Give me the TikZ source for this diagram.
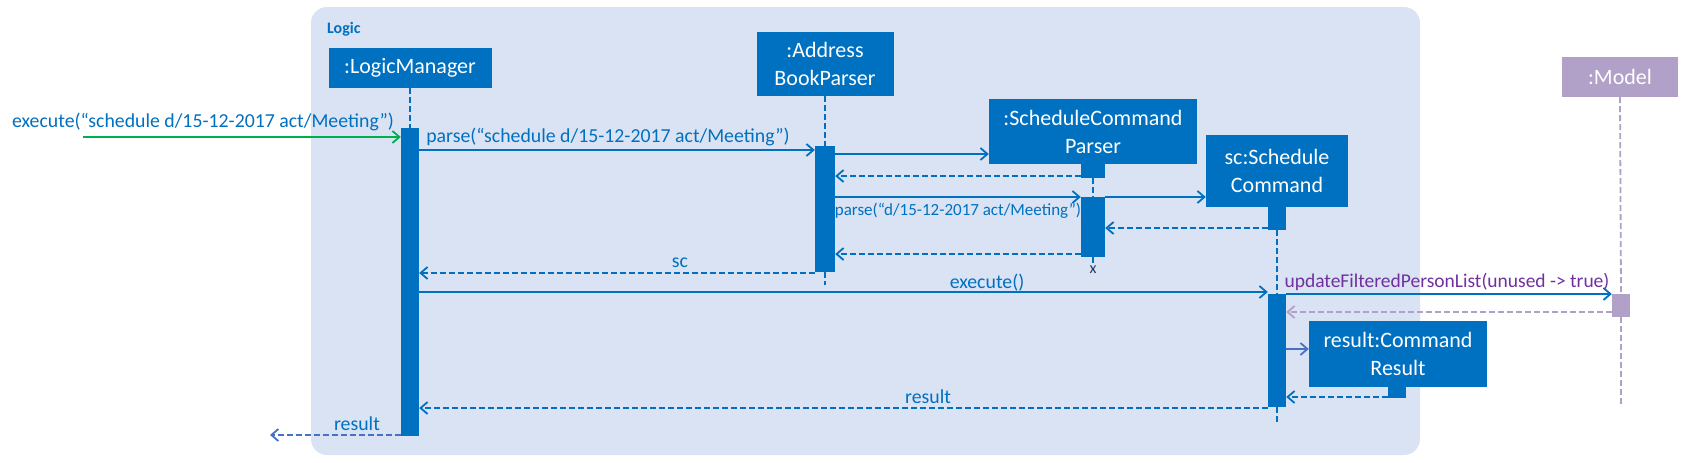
\documentclass[tikz,border=0pt]{standalone}
\usepackage{fontspec}
\setmainfont{Carlito}
\usepackage{tikz}
\usetikzlibrary{arrows.meta}
\definecolor{umlblue}{RGB}{0,112,192}
\definecolor{framebg}{RGB}{218,227,243}
\definecolor{modelpurple}{RGB}{177,160,199}
\definecolor{callgreen}{RGB}{0,176,80}
\definecolor{labelpurple}{RGB}{112,48,160}
\definecolor{crossnavy}{RGB}{31,56,100}
\definecolor{softblue}{RGB}{68,114,196}

\begin{document}
\begin{tikzpicture}[x=1pt,y=-1pt,
  obj/.style={rectangle,fill=umlblue,text=white,align=center,inner sep=0pt,font=\fontsize{22}{28}\selectfont},
  bar/.style={rectangle,fill=umlblue,inner sep=0pt,minimum width=18pt},
  life/.style={umlblue,line width=1.8pt,dash pattern=on 6pt off 3pt},
  call/.style={umlblue,line width=1.8pt,-{Straight Barb[length=7pt,width=12pt]}},
  ret/.style={call,dash pattern=on 6pt off 3pt},
  msg/.style={text=umlblue,inner sep=0pt,font=\fontsize{19.8}{22}\selectfont}]
\useasboundingbox (0,0) rectangle (1690,463);
\fill[framebg,rounded corners=16pt] (311,7) rectangle (1420,455);
\node[text=umlblue,inner sep=0pt,anchor=west,font=\bfseries\fontsize{16}{18}\selectfont] (logic) at (327,29) {Logic};

\node[obj,minimum width=163pt,minimum height=40pt] (lm) at (410,68) {:LogicManager};
\node[obj,minimum width=137pt,minimum height=64pt] (abp) at (825,64) {:Address\\BookParser};
\node[obj,minimum width=208pt,minimum height=65pt] (scp) at (1093,131.5) {:ScheduleCommand\\Parser};
\node[obj,minimum width=142pt,minimum height=72pt] (sc) at (1277,171) {sc:Schedule\\Command};
\node[obj,minimum width=178pt,minimum height=66pt] (cr) at (1398,354) {result:Command\\Result};
\node[obj,fill=modelpurple,minimum width=116pt,minimum height=40pt] (model) at (1620,77) {:Model};

\node[bar,minimum height=308pt] (lmbar) at (410,282) {};
\node[bar,minimum width=20pt,minimum height=126pt] (abpbar) at (825,209) {};
\node[bar,minimum width=24pt,minimum height=14pt] (scpbar1) at (1093,171) {};
\node[bar,minimum width=24pt,minimum height=60pt] (scpbar2) at (1093,227) {};
\node[bar,minimum height=23pt] (scbar1) at (1277,218.5) {};
\node[bar,minimum height=113pt] (scbar2) at (1277,350.5) {};
\node[bar,minimum height=11pt] (crbar) at (1397,392.5) {};
\node[bar,fill=modelpurple,minimum height=23pt] (modelbar) at (1621,305.5) {};
\node[text=crossnavy,inner sep=0pt,font=\fontsize{16}{16}\selectfont] (cross) at (1093,270) {x};

\coordinate (abpend) at (825,285);
\coordinate (scend) at (1277,422);
\coordinate (modelend) at (1621,405);
\draw[life] (lm.south) -- (lmbar.north);
\draw[life] (abp.south) -- (abpbar.north);
\draw[life] (abpbar.south) -- (abpend);
\draw[life] (scpbar1.south) -- (scpbar2.north);
\draw[life] (scpbar2.south) -- (cross.north);
\draw[life] (scbar1.south) -- (scbar2.north);
\draw[life] (scbar2.south) -- (scend);
\draw[life,modelpurple] (model.south) -- (modelbar.north);
\draw[life,modelpurple] (modelbar.south) -- (modelend);

\coordinate (caller) at (83,137);
\coordinate (lvparse) at (0,150);
\coordinate (lvnew) at (0,154);
\coordinate (lvback) at (0,176);
\coordinate (lvparsetwo) at (0,197);
\coordinate (lvscret) at (0,228);
\coordinate (lvscpret) at (0,254);
\coordinate (lvsc) at (0,273);
\coordinate (lvrun) at (0,292);
\coordinate (lvupd) at (0,294);
\coordinate (lvmodel) at (0,312);
\coordinate (lvnewcr) at (0,349);
\coordinate (lvcr) at (0,397);
\coordinate (lvres) at (0,408);
\coordinate (outer) at (270,435);

\draw[call,callgreen] (caller) -- (lmbar.west |- caller);
\node[msg] (execlbl) at (203,122) {execute(“schedule d/15-12-2017 act/Meeting”)};
\draw[call] (lmbar.east |- lvparse) -- (abpbar.west |- lvparse);
\node[msg] (parselbl) at (608,137) {parse(“schedule d/15-12-2017 act/Meeting”)};
\draw[call] (abpbar.east |- lvnew) -- (scp.west |- lvnew);
\draw[ret] (scpbar1.west |- lvback) -- (abpbar.east |- lvback);
\draw[call] (abpbar.east |- lvparsetwo) -- (scpbar2.west |- lvparsetwo);
\node[msg,font=\fontsize{17}{20}\selectfont] (parsetwolbl) at (958,211) {parse(“d/15-12-2017 act/Meeting”)};
\draw[call] (scpbar2.east |- lvparsetwo) -- (sc.west |- lvparsetwo);
\draw[ret] (scbar1.west |- lvscret) -- (scpbar2.east |- lvscret);
\draw[ret] (scpbar2.west |- lvscpret) -- (abpbar.east |- lvscpret);
\draw[ret] (abpbar.west |- lvsc) -- (lmbar.east |- lvsc);
\node[msg] (sclbl) at (680,263) {sc};
\draw[call] (lmbar.east |- lvrun) -- (scbar2.west |- lvrun);
\node[msg] (runlbl) at (987,283) {execute()};
\draw[call] (scbar2.east |- lvupd) -- (modelbar.west |- lvupd);
\node[msg,font=\fontsize{19.5}{22}\selectfont,text=labelpurple] (updlbl) at (1447,282) {updateFilteredPersonList(unused -> true)};
\draw[ret,modelpurple] (modelbar.west |- lvmodel) -- (scbar2.east |- lvmodel);
\draw[call,softblue] (scbar2.east |- lvnewcr) -- (cr.west |- lvnewcr);
\draw[ret] (crbar.west |- lvcr) -- (scbar2.east |- lvcr);
\draw[ret] (scbar2.west |- lvres) -- (lmbar.east |- lvres);
\node[msg] (reslbl) at (928,397) {result};
\draw[ret,softblue] (lmbar.west |- outer) -- (outer);
\node[msg] (outlbl) at (357,424) {result};
\end{tikzpicture}
\end{document}
